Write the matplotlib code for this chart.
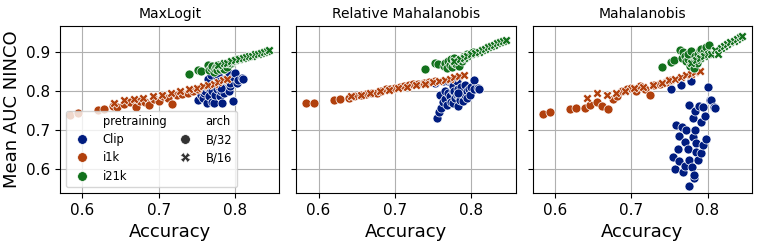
import matplotlib.pyplot as plt
from matplotlib.lines import Line2D

# accuracy per model group (shared by all three panels)
clip_acc = [0.752, 0.755, 0.758, 0.759, 0.761, 0.763, 0.763, 0.765, 0.766, 0.768,
            0.770, 0.770, 0.772, 0.774, 0.776, 0.776, 0.776, 0.778, 0.779, 0.781,
            0.781, 0.782, 0.783, 0.784, 0.785, 0.785, 0.787, 0.789, 0.792, 0.792,
            0.794, 0.794, 0.797, 0.798, 0.800, 0.803, 0.804, 0.809, 0.810, 0.782]
i1k_b32_acc = [0.584, 0.594, 0.620, 0.628, 0.640, 0.646, 0.655, 0.662, 0.670, 0.676,
               0.682, 0.688, 0.694, 0.700, 0.706, 0.712, 0.718, 0.724, 0.730, 0.738,
               0.745, 0.752]
i1k_b16_acc = [0.642, 0.655, 0.668, 0.680, 0.692, 0.704, 0.716, 0.728, 0.740, 0.750,
               0.758, 0.765, 0.772, 0.778, 0.784, 0.790]
i21k_b32_acc = [0.740, 0.752, 0.756, 0.764, 0.766, 0.768, 0.770, 0.772, 0.774, 0.775,
                0.777, 0.778, 0.780, 0.782, 0.784, 0.786, 0.788, 0.790, 0.792, 0.795,
                0.798, 0.802]
i21k_b16_acc = [0.778, 0.785, 0.790, 0.795, 0.800, 0.805, 0.810, 0.814, 0.818, 0.822,
                0.826, 0.830, 0.834, 0.838, 0.842, 0.845]

# mean AUC NINCO, one list per panel and group
maxlogit_clip = [0.776, 0.790, 0.782, 0.795, 0.800, 0.767, 0.810, 0.829, 0.785, 0.840,
                 0.800, 0.772, 0.767, 0.790, 0.818, 0.805, 0.835, 0.839, 0.810, 0.825,
                 0.786, 0.800, 0.767, 0.815, 0.825, 0.795, 0.830, 0.806, 0.846, 0.799,
                 0.812, 0.820, 0.835, 0.773, 0.846, 0.819, 0.828, 0.833, 0.830, 0.808]
maxlogit_i1k_b32 = [0.738, 0.743, 0.749, 0.752, 0.760, 0.758, 0.766, 0.770, 0.758, 0.774,
                    0.770, 0.762, 0.778, 0.774, 0.786, 0.780, 0.766, 0.788, 0.792, 0.795,
                    0.800, 0.805]
maxlogit_i1k_b16 = [0.768, 0.775, 0.778, 0.782, 0.786, 0.790, 0.795, 0.800, 0.803, 0.808,
                    0.812, 0.815, 0.818, 0.822, 0.826, 0.830]
maxlogit_i21k_b32 = [0.843, 0.853, 0.850, 0.865, 0.852, 0.858, 0.862, 0.848, 0.856, 0.860,
                     0.852, 0.866, 0.855, 0.862, 0.858, 0.856, 0.868, 0.860, 0.872, 0.870,
                     0.875, 0.880]
maxlogit_i21k_b16 = [0.866, 0.870, 0.872, 0.875, 0.878, 0.880, 0.884, 0.886, 0.888, 0.890,
                     0.893, 0.895, 0.897, 0.900, 0.903, 0.905]

relmaha_clip = [0.820, 0.729, 0.745, 0.790, 0.756, 0.825, 0.770, 0.778, 0.800, 0.763,
                0.825, 0.795, 0.785, 0.770, 0.800, 0.769, 0.812, 0.799, 0.780, 0.825,
                0.790, 0.760, 0.805, 0.786, 0.775, 0.795, 0.810, 0.773, 0.814, 0.790,
                0.800, 0.780, 0.805, 0.790, 0.810, 0.828, 0.805, 0.806, 0.805, 0.795]
relmaha_i1k_b32 = [0.767, 0.768, 0.776, 0.778, 0.782, 0.785, 0.789, 0.792, 0.795, 0.794,
                   0.800, 0.803, 0.805, 0.806, 0.810, 0.812, 0.815, 0.816, 0.818, 0.820,
                   0.822, 0.824]
relmaha_i1k_b16 = [0.786, 0.790, 0.793, 0.798, 0.802, 0.806, 0.810, 0.814, 0.818, 0.822,
                   0.825, 0.828, 0.831, 0.834, 0.837, 0.840]
relmaha_i21k_b32 = [0.855, 0.872, 0.868, 0.862, 0.870, 0.858, 0.875, 0.865, 0.880, 0.860,
                    0.872, 0.885, 0.868, 0.878, 0.862, 0.882, 0.875, 0.890, 0.885, 0.893,
                    0.895, 0.900]
relmaha_i21k_b16 = [0.875, 0.880, 0.885, 0.890, 0.894, 0.897, 0.900, 0.905, 0.908, 0.912,
                    0.915, 0.918, 0.921, 0.925, 0.928, 0.930]

maha_clip = [0.805, 0.629, 0.600, 0.712, 0.649, 0.683, 0.620, 0.815, 0.707, 0.592,
             0.669, 0.606, 0.699, 0.649, 0.763, 0.555, 0.623, 0.825, 0.603, 0.729,
             0.681, 0.575, 0.748, 0.700, 0.665, 0.643, 0.623, 0.760, 0.720, 0.639,
             0.757, 0.660, 0.735, 0.677, 0.810, 0.776, 0.776, 0.757, 0.756, 0.583]
maha_i1k_b32 = [0.740, 0.745, 0.752, 0.756, 0.755, 0.764, 0.770, 0.760, 0.752, 0.778,
                0.786, 0.800, 0.805, 0.808, 0.800, 0.812, 0.805, 0.790, 0.815, 0.818,
                0.822, 0.826]
maha_i1k_b16 = [0.782, 0.795, 0.790, 0.795, 0.800, 0.806, 0.810, 0.815, 0.820, 0.826,
                0.830, 0.835, 0.840, 0.843, 0.847, 0.850]
maha_i21k_b32 = [0.860, 0.873, 0.879, 0.904, 0.885, 0.899, 0.890, 0.875, 0.880, 0.895,
                 0.862, 0.903, 0.870, 0.859, 0.888, 0.872, 0.893, 0.905, 0.908, 0.900,
                 0.912, 0.916]
maha_i21k_b16 = [0.870, 0.878, 0.885, 0.890, 0.895, 0.893, 0.905, 0.893, 0.910, 0.915,
                 0.920, 0.925, 0.928, 0.932, 0.937, 0.940]

titles = ["MaxLogit", "Relative Mahalanobis", "Mahalanobis"]
panels = [
    [maxlogit_clip, maxlogit_i1k_b32, maxlogit_i1k_b16, maxlogit_i21k_b32, maxlogit_i21k_b16],
    [relmaha_clip, relmaha_i1k_b32, relmaha_i1k_b16, relmaha_i21k_b32, relmaha_i21k_b16],
    [maha_clip, maha_i1k_b32, maha_i1k_b16, maha_i21k_b32, maha_i21k_b16],
]
accs = [clip_acc, i1k_b32_acc, i1k_b16_acc, i21k_b32_acc, i21k_b16_acc]

pal = {"Clip": "#001c7f", "i1k": "#b1400d", "i21k": "#12711c"}
groups = [("Clip", "o"), ("i1k", "o"), ("i1k", "X"), ("i21k", "o"), ("i21k", "X")]

fig, axes = plt.subplots(1, 3, figsize=(7.61, 2.45), dpi=100, sharex=True, sharey=True)
fig.subplots_adjust(left=0.079, right=0.988, top=0.894, bottom=0.212, wspace=0.078)

for ax, title, ys in zip(axes, titles, panels):
    ax.set_axisbelow(True)
    ax.grid(True, color="#b0b0b0", linewidth=0.8)
    for (name, marker), x, y in zip(groups, accs, ys):
        ax.scatter(x, y, s=42, marker=marker, color=pal[name],
                   edgecolor="white", linewidth=0.5)
    ax.set_title(title, fontsize=10)
    ax.set_xlabel("Accuracy", fontsize=13)
    ax.tick_params(labelsize=11)

axes[0].set_ylabel("Mean AUC NINCO", fontsize=13)
axes[0].set_ylim(0.537, 0.966)
axes[0].set_xticks([0.6, 0.7, 0.8])
axes[0].set_yticks([0.6, 0.7, 0.8, 0.9])

blank = Line2D([], [], linestyle="none", marker="")
def dot(color, marker="o"):
    return Line2D([], [], linestyle="none", marker=marker, markersize=7,
                  markerfacecolor=color, markeredgecolor="white", markeredgewidth=0.5)

handles = [blank, dot(pal["Clip"]), dot(pal["i1k"]), dot(pal["i21k"]),
           blank, dot("#333333"), dot("#333333", "X")]
labels = ["pretraining", "Clip", "i1k", "i21k", "arch", "B/32", "B/16"]
axes[0].legend(handles, labels, loc="lower left", ncol=2, fontsize=8.3,
               columnspacing=0.6, labelspacing=0.45)

plt.savefig("out.png", dpi=100)
plt.close(fig)
